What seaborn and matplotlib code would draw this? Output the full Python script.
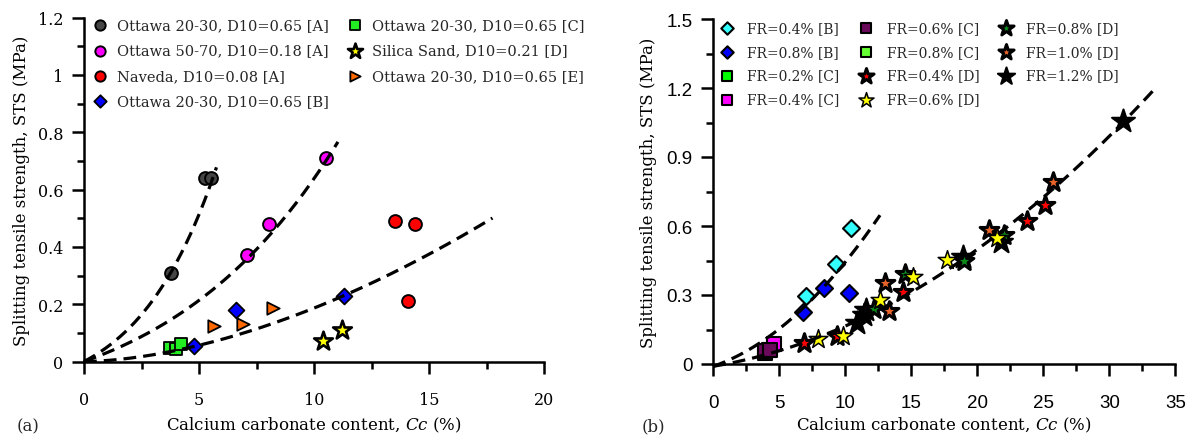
import numpy as np
import pandas as pd
import matplotlib
matplotlib.use("Agg")
import matplotlib.pyplot as plt
from matplotlib.ticker import MultipleLocator
import seaborn as sns

# ---------------- data: panel (a) ----------------
a_labels = ["Ottawa 20-30, D10=0.65 [A]", "Ottawa 50-70, D10=0.18 [A]",
            "Naveda, D10=0.08 [A]", "Ottawa 20-30, D10=0.65 [B]",
            "Ottawa 20-30, D10=0.65 [C]", "Silica Sand, D10=0.21 [D]",
            "Ottawa 20-30, D10=0.65 [E]"]
a_ott2030_A_x = [3.8, 5.25, 5.5]
a_ott2030_A_y = [0.31, 0.64, 0.64]
a_ott5070_A_x = [7.1, 8.05, 10.5]
a_ott5070_A_y = [0.37, 0.48, 0.71]
a_naveda_x = [13.5, 14.4, 14.1]
a_naveda_y = [0.49, 0.48, 0.21]
a_ott_B_x = [4.8, 6.6, 11.3]
a_ott_B_y = [0.053, 0.18, 0.23]
a_ott_C_x = [3.75, 4.0, 4.2]
a_ott_C_y = [0.048, 0.045, 0.06]
a_silica_x = [10.4, 11.2]
a_silica_y = [0.07, 0.11]
a_ott_E_x = [5.65, 6.9, 8.2]
a_ott_E_y = [0.125, 0.13, 0.187]

# trend curves (a): y = k * x**p * exp(q*x), drawn up to x_end
a_curve_k = [0.0417, 0.0285, 0.00355]
a_curve_p = [1.0, 1.0, 1.72]
a_curve_q = [0.18, 0.0806, 0.0]
a_curve_end = [5.76, 11.04, 17.76]

# ---------------- data: panel (b) ----------------
b_labels = ["FR=0.4% [B]", "FR=0.8% [B]", "FR=0.2% [C]", "FR=0.4% [C]",
            "FR=0.6% [C]", "FR=0.8% [C]", "FR=0.4% [D]", "FR=0.6% [D]",
            "FR=0.8% [D]", "FR=1.0% [D]", "FR=1.2% [D]"]
b_fr04B_x = [7.05, 9.3, 10.4]
b_fr04B_y = [0.295, 0.435, 0.593]
b_fr08B_x = [6.8, 8.4, 10.3]
b_fr08B_y = [0.228, 0.331, 0.308]
b_fr02C_x = [3.9]
b_fr02C_y = [0.05]
b_fr04C_x = [4.6]
b_fr04C_y = [0.085]
b_fr06C_x = [3.9, 4.3]
b_fr06C_y = [0.055, 0.063]
b_fr08C_x = [4.2]
b_fr08C_y = [0.06]
b_fr04D_x = [6.9, 9.35, 14.35, 23.8, 25.15]
b_fr04D_y = [0.09, 0.12, 0.313, 0.62, 0.69]
b_fr06D_x = [7.9, 9.8, 12.6, 15.1, 17.7, 21.5]
b_fr06D_y = [0.11, 0.12, 0.28, 0.38, 0.454, 0.548]
b_fr08D_x = [12.2, 14.55, 19.0, 22.0]
b_fr08D_y = [0.24, 0.392, 0.45, 0.562]
b_fr10D_x = [13.0, 13.3, 20.9, 25.7]
b_fr10D_y = [0.352, 0.23, 0.581, 0.792]
b_fr12D_x = [10.9, 11.4, 11.6, 18.9, 21.8, 31.0]
b_fr12D_y = [0.18, 0.215, 0.235, 0.465, 0.53, 1.056]

# trend curves (b): y = c0 + c1*x + c2*x^2
b_curve_c0 = [-0.01, -0.01]
b_curve_c1 = [0.01988, 0.00958]
b_curve_c2 = [0.002545, 0.000792]
b_curve_end = [12.63, 33.44]

# ---------------- styling ----------------
sns.set_theme(style="ticks")
plt.rcParams["font.family"] = ["DejaVu Serif"]
plt.rcParams["mathtext.fontset"] = "dejavuserif"

W, H = 1192, 439
fig = plt.figure(figsize=(W / 100, H / 100), dpi=100)
axa = fig.add_axes([84 / W, (H - 362.5) / H, (544 - 84) / W, 344 / H])
axb = fig.add_axes([713.3 / W, (H - 365) / H, 462 / W, 345 / H])

EC = "black"
legend_sizes = {}


def scat(ax, x, y, marker, color, s, lw, label, s_leg, z=3):
    df = pd.DataFrame({"x": x, "y": y})
    sns.scatterplot(data=df, x="x", y="y", ax=ax, marker=marker, s=s,
                    color=color, edgecolor=EC, linewidth=lw, label=label,
                    zorder=z, legend=False)
    legend_sizes[(id(ax), label)] = s_leg


# panel a points
scat(axa, a_ott2030_A_x, a_ott2030_A_y, "o", "#454545", 85, 1.4, a_labels[0], 55)
scat(axa, a_ott5070_A_x, a_ott5070_A_y, "o", "#ff00ff", 85, 1.4, a_labels[1], 55)
scat(axa, a_naveda_x, a_naveda_y, "o", "#ff0000", 85, 1.4, a_labels[2], 55)
scat(axa, a_ott_B_x, a_ott_B_y, "D", "#0000ff", 65, 1.3, a_labels[3], 40)
scat(axa, a_ott_C_x, a_ott_C_y, "s", "#22ee22", 70, 1.3, a_labels[4], 50)
scat(axa, a_silica_x, a_silica_y, "*", "#ffff00", 200, 1.9, a_labels[5], 130)
scat(axa, a_ott_E_x, a_ott_E_y, ">", "#ff6a00", 80, 1.3, a_labels[6], 55)

for k, p, q, xe in zip(a_curve_k, a_curve_p, a_curve_q, a_curve_end):
    xs = np.linspace(0, xe, 200)
    ys = k * xs ** p * np.exp(q * xs)
    sns.lineplot(x=xs, y=ys, ax=axa, color="black", lw=2.3,
                 linestyle=(0, (4, 2.2)), zorder=5, clip_on=False,
                 sort=False, estimator=None)

# panel b points
scat(axb, b_fr02C_x, b_fr02C_y, "s", "#00ff00", 95, 1.5, b_labels[2], 50)
scat(axb, b_fr08C_x, b_fr08C_y, "s", "#66ff33", 95, 1.5, b_labels[5], 50)
scat(axb, b_fr04C_x, b_fr04C_y, "s", "#ff00ff", 95, 1.5, b_labels[3], 50)
scat(axb, b_fr06C_x, b_fr06C_y, "s", "#6a0a5a", 95, 1.5, b_labels[4], 50)
scat(axb, b_fr04B_x, b_fr04B_y, "D", "#33ffff", 75, 1.5, b_labels[0], 40)
scat(axb, b_fr08B_x, b_fr08B_y, "D", "#0000ff", 75, 1.5, b_labels[1], 40)
scat(axb, b_fr12D_x, b_fr12D_y, "*", "#000000", 300, 1.5, b_labels[10], 170)
scat(axb, b_fr08D_x, b_fr08D_y, "*", "#0a8a1a", 200, 2.2, b_labels[8], 130)
scat(axb, b_fr04D_x, b_fr04D_y, "*", "#ff0000", 200, 2.2, b_labels[6], 130)
scat(axb, b_fr10D_x, b_fr10D_y, "*", "#e8642a", 200, 2.2, b_labels[9], 130)
scat(axb, b_fr06D_x, b_fr06D_y, "*", "#ffff00", 200, 1.1, b_labels[7], 130)

for c0, c1, c2, xe in zip(b_curve_c0, b_curve_c1, b_curve_c2, b_curve_end):
    xs = np.linspace(0, xe, 200)
    ys = c0 + c1 * xs + c2 * xs ** 2
    sns.lineplot(x=xs, y=ys, ax=axb, color="black", lw=2.3,
                 linestyle=(0, (4, 2.2)), zorder=5, clip_on=False,
                 sort=False, estimator=None)

# axes formatting
for ax in (axa, axb):
    for side in ("top", "right"):
        ax.spines[side].set_visible(False)
    for side in ("left", "bottom"):
        ax.spines[side].set_linewidth(1.8)
        ax.spines[side].set_color("black")
    ax.tick_params(which="major", direction="out", length=8.5, width=1.8,
                   color="black")
    ax.tick_params(which="minor", direction="out", length=5, width=1.8,
                   color="black")
    ax.tick_params(axis="x", which="major", pad=13)
    ax.tick_params(axis="y", which="major", pad=6.5)
    ax.set_facecolor("white")

axa.set_xlim(0, 20)
axa.set_ylim(0, 1.2)
axa.set_xticks([0, 5, 10, 15, 20])
axa.set_xticklabels(["0", "5", "10", "15", "20"])
axa.xaxis.set_minor_locator(MultipleLocator(2.5))
axa.set_yticks([0, 0.2, 0.4, 0.6, 0.8, 1.0, 1.2])
axa.set_yticklabels(["0", "0.2", "0.4", "0.6", "0.8", "1", "1.2"])
axa.yaxis.set_minor_locator(MultipleLocator(0.1))
for t in axa.get_xticklabels() + axa.get_yticklabels():
    t.set_fontfamily("DejaVu Serif")
    t.set_fontsize(11.5)
    t.set_color("black")

axb.set_xlim(0, 35)
axb.set_ylim(0, 1.5)
axb.set_xticks([0, 5, 10, 15, 20, 25, 30, 35])
axb.set_xticklabels(["0", "5", "10", "15", "20", "25", "30", "35"])
axb.xaxis.set_minor_locator(MultipleLocator(2.5))
axb.set_yticks([0, 0.3, 0.6, 0.9, 1.2, 1.5])
axb.set_yticklabels(["0", "0.3", "0.6", "0.9", "1.2", "1.5"])
axb.yaxis.set_minor_locator(MultipleLocator(0.15))
for t in axb.get_xticklabels() + axb.get_yticklabels():
    t.set_fontfamily("Liberation Sans")
    t.set_fontsize(13.5)
    t.set_color("black")

xlab = r"Calcium carbonate content, $\mathit{Cc}$ (%)"
ylab = "Splitting tensile strength, STS (MPa)"
for ax in (axa, axb):
    ax.set_xlabel(xlab, fontsize=12, color="black")
    ax.set_ylabel(ylab, fontsize=12, color="black")
axa.yaxis.set_label_coords(-0.117, 0.5)
axb.yaxis.set_label_coords(-0.122, 0.5)
axa.xaxis.set_label_coords(0.5, -0.155)
axb.xaxis.set_label_coords(0.5, -0.147)

fig.text(28 / W, (H - 427) / H, "(a)", fontsize=12, ha="center", va="center")
fig.text(653 / W, (H - 427) / H, "(b)", fontsize=12, ha="center", va="center")


def make_legend(ax, labels, ncol, anchor, fs, htp, cs, ls):
    h, l = ax.get_legend_handles_labels()
    order = [l.index(s) for s in labels]
    leg = ax.legend([h[i] for i in order], [l[i] for i in order], ncol=ncol,
                    loc="upper left", bbox_to_anchor=anchor,
                    bbox_transform=fig.transFigure, frameon=False,
                    fontsize=fs, handletextpad=htp, columnspacing=cs,
                    labelspacing=ls, handlelength=1.0, borderpad=0,
                    borderaxespad=0)
    for hd, lab in zip(leg.legend_handles, labels):
        hd.set_sizes([legend_sizes[(id(ax), lab)]])
    return leg


make_legend(axa, a_labels, 2, (92.7 / W, (H - 19) / H), 10.5, 0.64, 1.35, 0.78)
make_legend(axb, b_labels, 3, (720 / W, (H - 22) / H), 10, 0.95, 1.44, 0.7)

fig.savefig("out.png", dpi=100, facecolor="white")
